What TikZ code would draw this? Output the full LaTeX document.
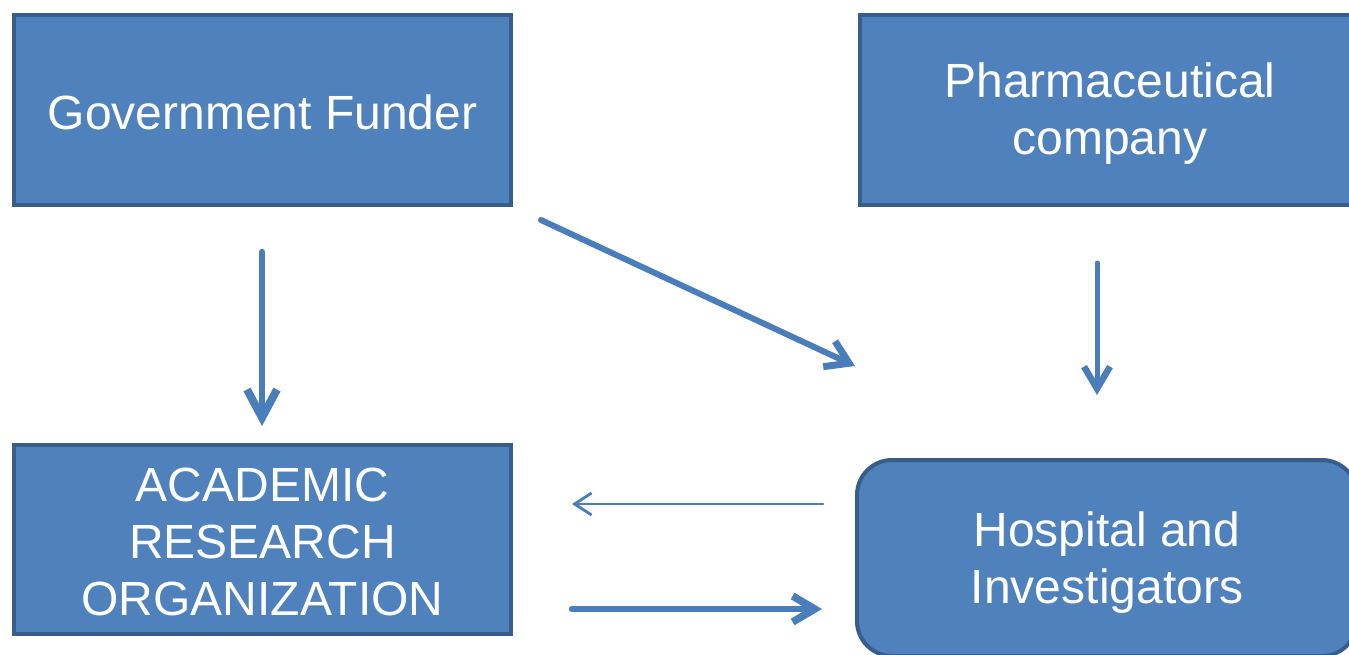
\documentclass[tikz,border=0pt]{standalone}
\usepackage{fontspec}
\setmainfont{Liberation Sans}
\usetikzlibrary{arrows.meta}
\definecolor{boxfill}{HTML}{4F81BD}
\definecolor{boxline}{HTML}{385D8A}
\definecolor{arrowc}{HTML}{4A7EBB}
\begin{document}
\begin{tikzpicture}[x=1pt,y=-1pt,
  box/.style={fill=boxfill, draw=boxline, line width=4pt, text=white,
    font=\fontsize{48}{57}\selectfont, align=center, inner sep=0pt},
  conn/.style={draw=arrowc, line cap=round, line join=round}]
\useasboundingbox (0,0) rectangle (1349,654);
\clip (0,0) rectangle (1349,654);
\node[box, minimum width=497pt, minimum height=190pt] (gov) at (262.5,110) {};
\node[box, minimum width=500pt, minimum height=190pt] (pharma) at (1110,110) {};
\node[box, minimum width=497pt, minimum height=189pt] (aro) at (262.5,539.5) {};
\node[box, rounded corners=35pt, minimum width=500pt, minimum height=196pt] (hosp) at (1107,558) {};
\node[box, draw=none, fill=none] (govt) at ([yshift=-2pt]gov.center) {Government Funder};
\node[box, draw=none, fill=none] (pharmat) at ([yshift=-4pt]pharma.center) {Pharmaceutical\\company};
\node[box, draw=none, fill=none] (arot) at ([yshift=-2pt]aro.center) {ACADEMIC\\RESEARCH\\ORGANIZATION};
\node[box, draw=none, fill=none] (hospt) at ([yshift=-5pt]hosp.center) {Hospital and\\Investigators};
% connector endpoints
\coordinate (g1) at (262,252);
\coordinate (g2) at (262,426);
\coordinate (d1) at (541,220);
\coordinate (d2) at (855,366);
\coordinate (p1) at (1097,263);
\coordinate (p2) at (1097,395);
\coordinate (l1) at (823,504);
\coordinate (l2) at (572,504);
\coordinate (r1) at (572,609);
\coordinate (r2) at (822,609);
\draw[conn, line width=6.5pt, -{Straight Barb[length=28pt,width=30pt,line width=8pt]}] (g1) -- (g2);
\draw[conn, line width=6pt, -{Straight Barb[length=22pt,width=28pt,line width=7pt]}] (d1) -- (d2);
\draw[conn, line width=5pt, -{Straight Barb[length=22pt,width=26pt,line width=6.5pt]}] (p1) -- (p2);
\draw[conn, line width=2.4pt, -{Straight Barb[length=17pt,width=22pt,line width=2.8pt]}] (l1) -- (l2);
\draw[conn, line width=6.5pt, -{Straight Barb[length=22pt,width=26pt,line width=7.5pt]}] (r1) -- (r2);
\end{tikzpicture}
\end{document}
